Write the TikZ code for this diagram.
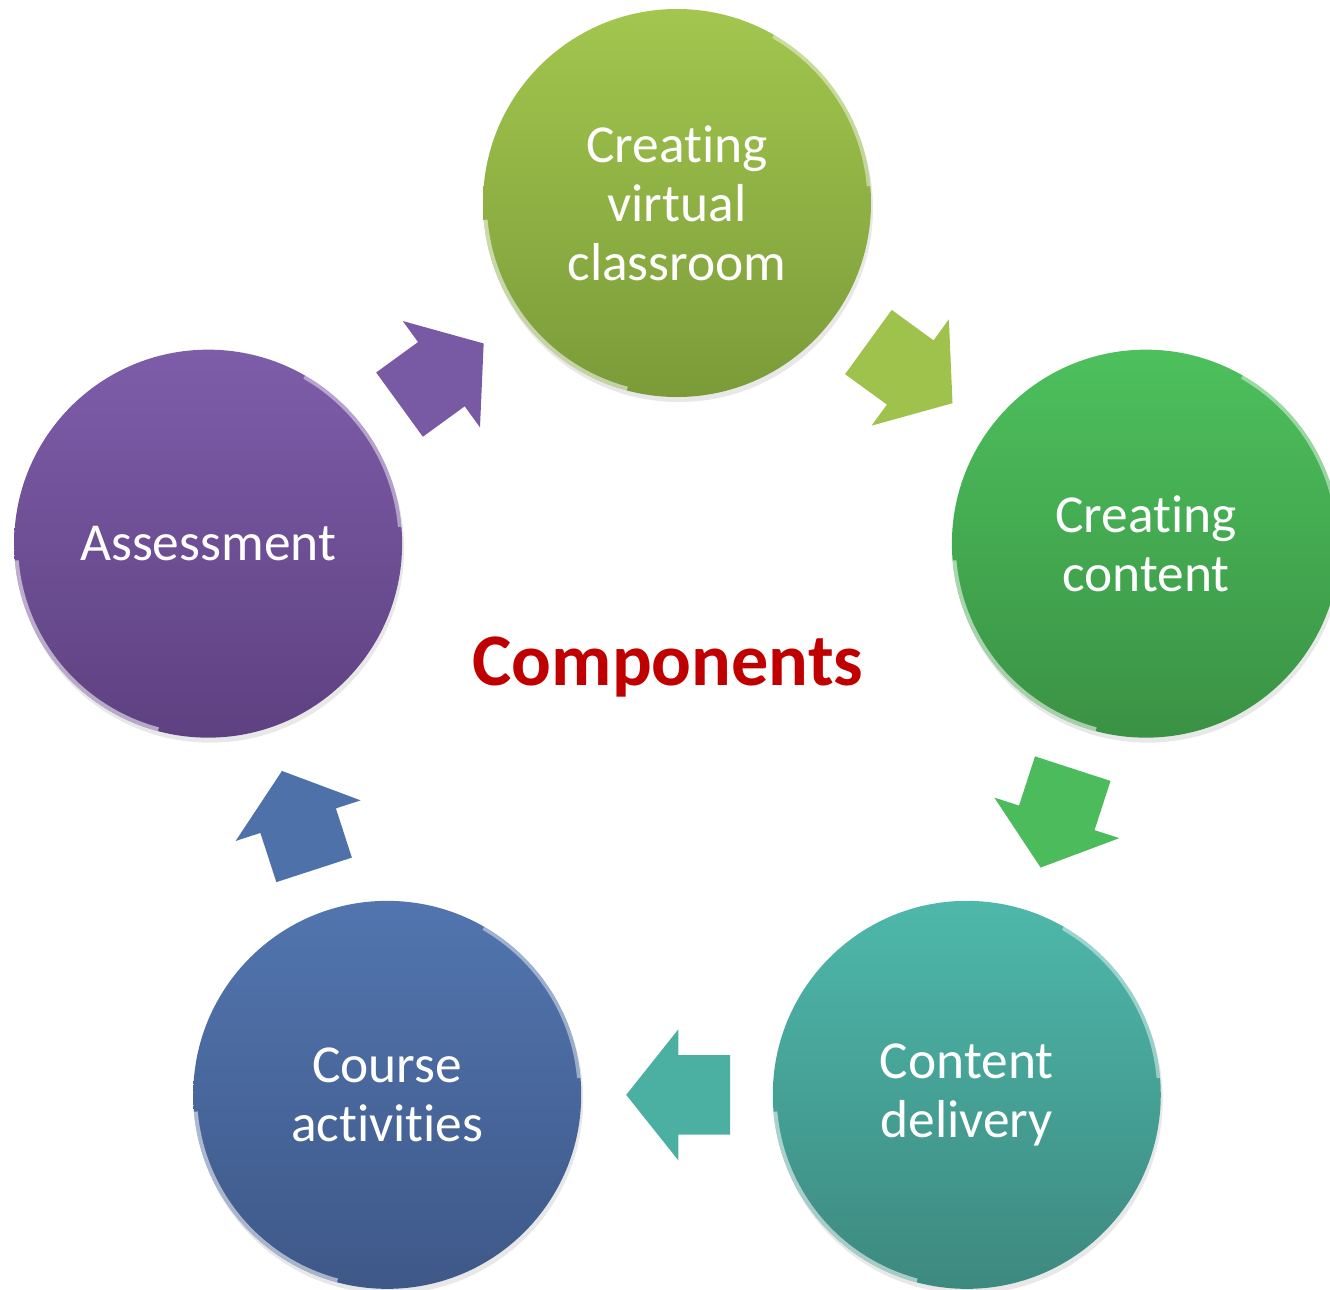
\documentclass[tikz,border=0pt]{standalone}
\usepackage{fontspec}
\setmainfont{Carlito}[Ligatures=NoCommon]
\usetikzlibrary{shapes.arrows,calc,shadows}

\definecolor{oliveTop}{HTML}{A2C64E}
\definecolor{oliveBot}{HTML}{7B9B39}
\definecolor{greenTop}{HTML}{4DC05D}
\definecolor{greenBot}{HTML}{3A9244}
\definecolor{tealTop}{HTML}{4EB8AB}
\definecolor{tealBot}{HTML}{3D897F}
\definecolor{blueTop}{HTML}{5275AF}
\definecolor{blueBot}{HTML}{3E5888}
\definecolor{violetTop}{HTML}{7D5DA9}
\definecolor{violetBot}{HTML}{5E4181}
\definecolor{titleRed}{HTML}{C00000}

\begin{document}
\begin{tikzpicture}[
  stage/.style={circle,minimum size=3.88cm,inner sep=0pt,text=white,align=center,
    font=\fontsize{15.2}{16.8}\selectfont,
    drop shadow={opacity=0.18,shadow xshift=0.02cm,shadow yshift=-0.05cm},
    path picture={
      \draw[white,opacity=0.55,line width=1.6pt] (path picture bounding box.center) ++(185:1.93) arc[start angle=185,end angle=255,radius=1.93];
      \draw[white,opacity=0.45,line width=1.4pt] (path picture bounding box.center) ++(5:1.93) arc[start angle=5,end angle=60,radius=1.93];}},
  blockarrow/.style={single arrow,minimum height=1.04cm,inner xsep=0pt,inner ysep=0.39cm,
    single arrow head extend=0.26cm,single arrow tip angle=103,rotate=#1,xshift=-0.17cm}
]
\useasboundingbox (0,0) rectangle (13.3,-12.9);
\coordinate (hub) at (6.77,-6.96);

\node[stage,top color=oliveTop,bottom color=oliveBot] (virtual) at ($(hub)+(90:4.93)$) {Creat\kern0pt ing\\virtual\\classroom};
\node[stage,top color=greenTop,bottom color=greenBot] (content) at ($(hub)+(18:4.93)$) {Creat\kern0pt ing\\content};
\node[stage,top color=tealTop,bottom color=tealBot] (delivery) at ($(hub)+(-54:4.93)$) {Content\\delivery};
\node[stage,top color=blueTop,bottom color=blueBot] (course) at ($(hub)+(-126:4.93)$) {Course\\act\kern0pt ivit\kern0pt ies};
\node[stage,top color=violetTop,bottom color=violetBot] (assess) at ($(hub)+(162:4.93)$) {Assessment};

\node[blockarrow=-36,fill=oliveTop!90!oliveBot] (v2c) at ($(virtual)!0.5!(content)$) {};
\node[blockarrow=-108,fill=greenTop!90!greenBot] (c2d) at ($(content)!0.5!(delivery)$) {};
\node[blockarrow=180,fill=tealTop!80!tealBot] (d2c) at ($(delivery)!0.5!(course)$) {};
\node[blockarrow=108,fill=blueTop!85!blueBot] (c2a) at ($(course)!0.5!(assess)$) {};
\node[blockarrow=36,fill=violetTop!85!violetBot] (a2v) at ($(assess)!0.5!(virtual)$) {};

\node[anchor=base,text=titleRed,font=\fontsize{21.1}{25}\selectfont\bfseries] (title) at (6.68,-6.85) {Components};
\end{tikzpicture}
\end{document}
